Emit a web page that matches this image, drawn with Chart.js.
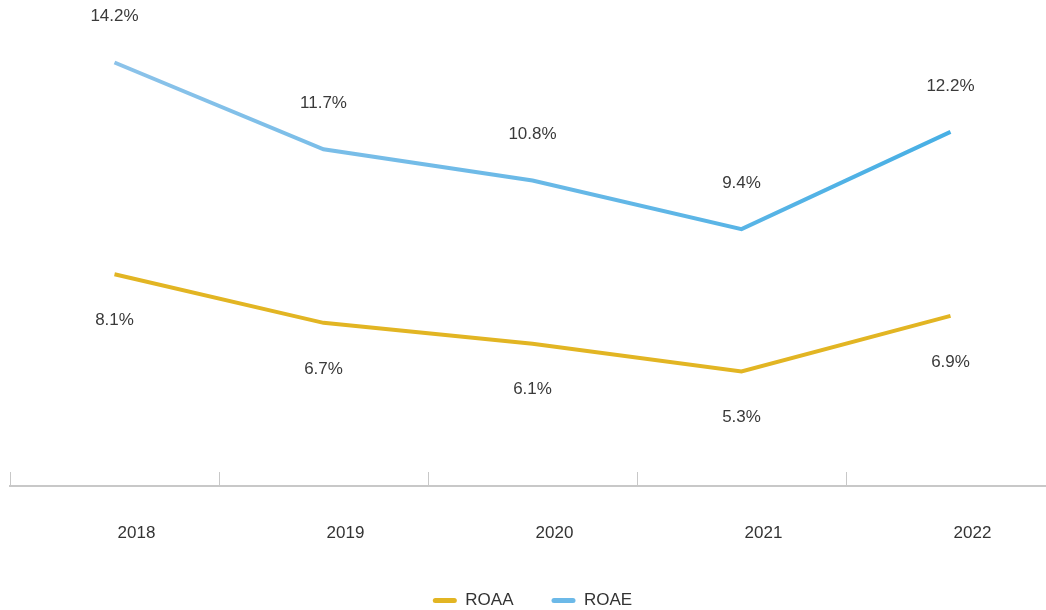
<!DOCTYPE html>
<html>
<head>
<meta charset="utf-8">
<script src="https://cdn.jsdelivr.net/npm/chart.js@4/dist/chart.umd.min.js"></script>
<style>
  html, body { margin: 0; padding: 0; background: #ffffff; overflow: hidden; }
  #wrap { position: relative; width: 1056px; height: 610px; }
</style>
</head>
<body>
<div id="wrap"><canvas id="c"></canvas></div>
<script>
const categories = ['2018', '2019', '2020', '2021', '2022'];
const roaaValues = [8.1, 6.7, 6.1, 5.3, 6.9];
const roaeValues = [14.2, 11.7, 10.8, 9.4, 12.2];
const seriesNames = ['ROAA', 'ROAE'];

const FONT = '"Liberation Sans", Arial, Helvetica, sans-serif';

const valueLabels = {
  id: 'valueLabels',
  afterDatasetsDraw(chart, args, opts) {
    const ctx = chart.ctx;
    ctx.save();
    ctx.font = '17px ' + FONT;
    ctx.fillStyle = '#3a3a3a';
    ctx.textAlign = 'center';
    ctx.textBaseline = 'middle';
    chart.data.datasets.forEach((ds, i) => {
      const meta = chart.getDatasetMeta(i);
      const off = opts.offsets[i];
      meta.data.forEach((pt, j) => {
        ctx.fillText(ds.data[j].toFixed(1) + '%', pt.x, pt.y + off);
      });
    });
    ctx.restore();
  }
};

function blueGradient(context) {
  const chart = context.chart;
  const area = chart.chartArea;
  if (!area) return '#7dbbe8';
  const g = chart.ctx.createLinearGradient(area.left, 0, area.right, 0);
  g.addColorStop(0, '#94c5ea');
  g.addColorStop(1, '#3fade4');
  return g;
}

new Chart(document.getElementById('c'), {
  type: 'line',
  data: {
    labels: categories,
    datasets: [
      {
        label: seriesNames[0],
        data: roaaValues,
        borderColor: '#e2b523',
        backgroundColor: '#e2b523',
        borderWidth: 4,
        pointRadius: 0,
        tension: 0,
        fill: false
      },
      {
        label: seriesNames[1],
        data: roaeValues,
        borderColor: blueGradient,
        backgroundColor: '#6cb9e8',
        borderWidth: 4,
        pointRadius: 0,
        tension: 0,
        fill: false
      }
    ]
  },
  options: {
    responsive: true,
    maintainAspectRatio: false,
    animation: false,
    layout: { padding: { left: 10, right: 1, top: 0, bottom: -9 } },
    scales: {
      x: {
        offset: true,
        afterFit(scale) { scale.height = 68; },
        grid: {
          offset: true,
          drawOnChartArea: false,
          drawTicks: true,
          tickLength: -14,
          color: '#c8c8c8',
          lineWidth: 1
        },
        border: { display: true, color: '#c8c8c8', width: 2 },
        ticks: {
          color: '#333333',
          font: { family: FONT, size: 17 },
          padding: 51,
          labelOffset: 22,
          maxRotation: 0
        }
      },
      y: {
        display: false,
        min: 2,
        max: 16
      }
    },
    plugins: {
      legend: {
        position: 'bottom',
        labels: {
          color: '#333333',
          font: { family: FONT, size: 17 },
          boxWidth: 24,
          boxHeight: 5,
          padding: 38,
          useBorderRadius: true,
          borderRadius: 2.5,
          generateLabels(chart) {
            const items = Chart.defaults.plugins.legend.labels.generateLabels(chart);
            items.forEach((it, i) => {
              it.lineWidth = 0;
              it.fillStyle = chart.data.datasets[i].backgroundColor;
            });
            return items;
          }
        }
      },
      tooltip: { enabled: false },
      valueLabels: { offsets: [46, -46] }
    }
  },
  plugins: [valueLabels]
});
</script>
</body>
</html>
